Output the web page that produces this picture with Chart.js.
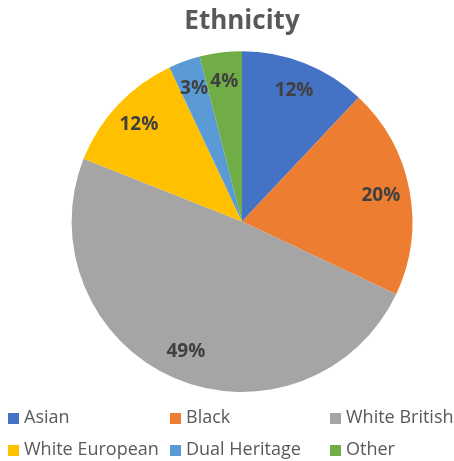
<!DOCTYPE html>
<html>
<head>
<meta charset="utf-8">
<script src="https://cdn.jsdelivr.net/npm/chart.js@4.4.1/dist/chart.umd.min.js"></script>
<style>
  html, body { margin: 0; padding: 0; background: #ffffff; }
  #wrap { width: 454px; height: 461px; }
</style>
</head>
<body>
<div id="wrap"><canvas id="ethnicityChart" width="454" height="461"></canvas></div>
<script>
// chart data
const categories = ['Asian', 'Black', 'White British', 'White European', 'Dual Heritage', 'Other'];
const shares = [12, 20, 49, 12, 3, 4];
const sliceColors = ['#4472C4', '#ED7D31', '#A5A5A5', '#FFC000', '#5B9BD5', '#70AD47'];

// percentage labels drawn inside each slice
const sliceLabels = {
    id: 'sliceLabels',
    afterDatasetsDraw(chart) {
        const ctx = chart.ctx;
        const meta = chart.getDatasetMeta(0);
        const total = shares.reduce((a, b) => a + b, 0);
        ctx.save();
        ctx.font = 'bold 19px "Open Sans", sans-serif';
        ctx.fillStyle = '#404040';
        ctx.textAlign = 'center';
        ctx.textBaseline = 'middle';
        meta.data.forEach((arc, i) => {
            const p = arc.getProps(['x', 'y', 'startAngle', 'endAngle', 'outerRadius'], true);
            const mid = (p.startAngle + p.endAngle) / 2;
            const r = p.outerRadius * 0.83;
            const pct = Math.round(shares[i] / total * 100) + '%';
            ctx.fillText(pct, p.x + Math.cos(mid) * r, p.y + Math.sin(mid) * r);
        });
        ctx.restore();
    }
};

// two-row legend laid out in columns
const gridLegend = {
    id: 'gridLegend',
    afterDraw(chart) {
        const ctx = chart.ctx;
        const cols = [8, 170, 330];
        const rows = [418, 450];
        ctx.save();
        ctx.font = '18px "Open Sans", sans-serif';
        ctx.textBaseline = 'middle';
        categories.forEach((name, i) => {
            const x = cols[i % 3];
            const y = rows[Math.floor(i / 3)];
            ctx.fillStyle = sliceColors[i];
            ctx.fillRect(x, y - 5, 11, 11);
            ctx.fillStyle = '#595959';
            ctx.fillText(name, x + 16, y);
        });
        ctx.restore();
    }
};

new Chart(document.getElementById('ethnicityChart'), {
    type: 'pie',
    data: {
        labels: categories,
        datasets: [{
            data: shares,
            backgroundColor: sliceColors,
            borderWidth: 0
        }]
    },
    options: {
        responsive: false,
        animation: false,
        layout: {
            padding: { left: 70, right: 40, top: 0, bottom: 69 }
        },
        plugins: {
            title: {
                display: true,
                text: 'Ethnicity',
                color: '#595959',
                font: { family: '"Open Sans", sans-serif', size: 26, weight: 'bold' },
                padding: { top: 6, bottom: 14 }
            },
            legend: { display: false },
            tooltip: { enabled: false }
        }
    },
    plugins: [sliceLabels, gridLegend]
});
</script>
</body>
</html>
